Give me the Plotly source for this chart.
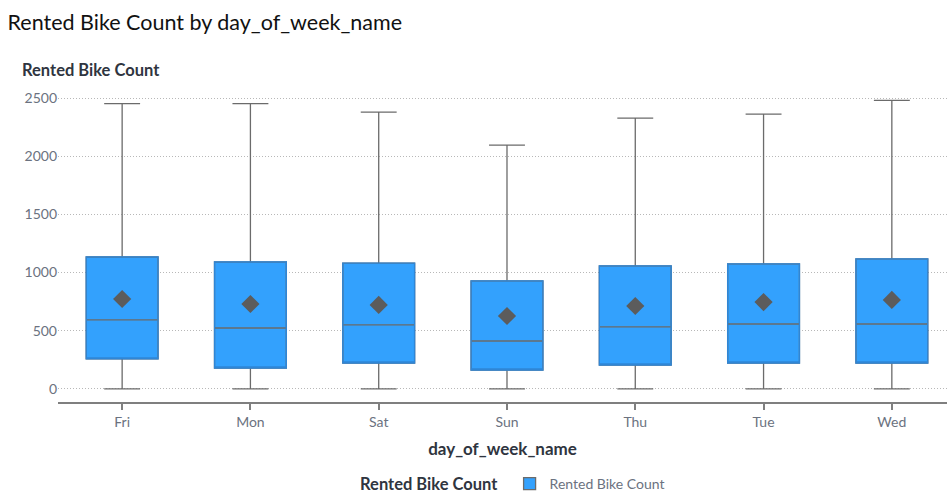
import plotly.graph_objects as go

# Rented bike count summary statistics per weekday
days = ["Fri", "Mon", "Sat", "Sun", "Thu", "Tue", "Wed"]
lower_fence = [0, 0, 0, 0, 0, 0, 0]
q1 = [258, 180, 223, 163, 206, 223, 223]
median = [593, 524, 550, 412, 533, 558, 558]
q3 = [1134, 1091, 1082, 928, 1057, 1074, 1117]
upper_fence = [2452, 2452, 2379, 2096, 2328, 2362, 2480]
mean = [773, 730, 722, 627, 713, 747, 765]

FILL = "#33a1fd"
EDGE = "#2f86d6"
GRAY = "#6b6b6b"
FONT = "Lato"

fig = go.Figure()

# Whiskers, caps and median in gray with the blue box fill
fig.add_trace(go.Box(
    x=days, q1=q1, median=median, q3=q3,
    lowerfence=lower_fence, upperfence=upper_fence,
    fillcolor=FILL, line=dict(color=GRAY, width=1.3),
    width=0.56, whiskerwidth=0.5, boxpoints=False,
    name="Rented Bike Count", showlegend=True,
    marker=dict(color=FILL), hoverinfo="skip",
))

# Blue outline around the interquartile box
fig.add_trace(go.Box(
    x=days, q1=q1, median=q1, q3=q3,
    lowerfence=q1, upperfence=q3,
    fillcolor="rgba(0,0,0,0)", line=dict(color=EDGE, width=1.3),
    width=0.56, whiskerwidth=0, boxpoints=False,
    showlegend=False, hoverinfo="skip",
))

# Mean markers
fig.add_trace(go.Scatter(
    x=days, y=mean, mode="markers",
    marker=dict(symbol="diamond", size=14, color="#5c5c5c"),
    showlegend=False, hoverinfo="skip",
))

fig.update_layout(
    width=947, height=494,
    margin=dict(l=58, r=0, t=88, b=92, autoexpand=False),
    paper_bgcolor="white", plot_bgcolor="white",
    font=dict(family=FONT, color="#6b7280", size=13),
    title=dict(text="Rented Bike Count by day_of_week_name",
               x=0.008, xanchor="left", y=0.955, yanchor="middle",
               font=dict(family=FONT, size=21.5, color="#111111")),
    boxmode="overlay",
    showlegend=True,
    legend=dict(orientation="h", x=0.513, xanchor="center",
                yref="container", y=0.02, yanchor="middle",
                title=dict(text="<b>Rented Bike Count</b> ",
                           font=dict(family=FONT, size=16.5, color="#2f3540")),
                font=dict(family=FONT, size=14, color="#6b7280")),
    annotations=[dict(text="<b>Rented Bike Count</b>", xref="paper", yref="paper",
                      x=-0.043, xanchor="left", y=1.058, yanchor="middle", showarrow=False,
                      font=dict(family=FONT, size=16.5, color="#2f3540"))],
)

fig.update_xaxes(
    type="category", categoryorder="array", categoryarray=days,
    range=[-0.5, 6.43],
    showline=True, linecolor="#7f7f7f", linewidth=2,
    ticks="outside", ticklen=6, tickcolor="#7f7f7f", tickwidth=2,
    showgrid=False, automargin=False,
    tickfont=dict(family=FONT, size=14, color="#6b7280"),
    title=dict(text="<b>day_of_week_name</b>", standoff=14,
               font=dict(family=FONT, size=17, color="#2f3540")),
)

fig.update_yaxes(
    range=[-112, 2586],
    tickvals=[0, 500, 1000, 1500, 2000, 2500],
    showgrid=True, gridcolor="#b8b8b8", griddash="1px,2px", gridwidth=1,
    zeroline=False, showline=False, ticks="", automargin=False,
    tickfont=dict(family=FONT, size=14, color="#6b7280"),
)

fig.write_html("out.html")
